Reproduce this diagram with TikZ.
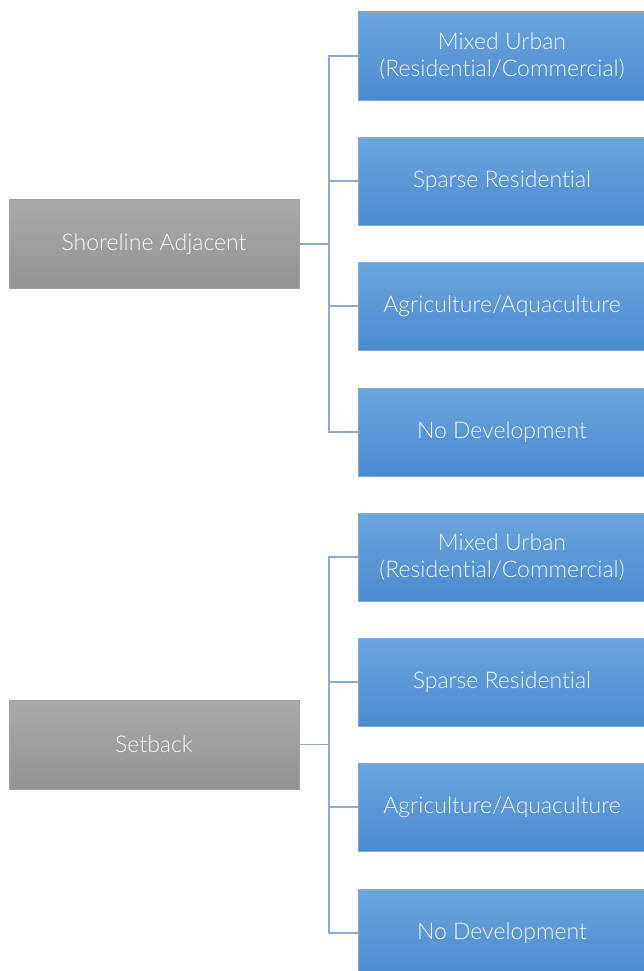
\documentclass[tikz,border=0pt]{standalone}
\usepackage{fontspec}
\setmainfont{Lato}[UprightFont=* Light, Ligatures={NoCommon}]
\begin{document}
\begin{tikzpicture}[x=1pt,y=-1pt,
  bluebox/.style={rectangle, minimum width=288pt, minimum height=88pt, inner sep=0pt,
    top color=blueT, bottom color=blueB, draw=blueE, line width=0.6pt,
    text=txtC, align=center, font=\fontsize{23}{26.5}\selectfont},
  graybox/.style={rectangle, minimum width=290pt, minimum height=89pt, inner sep=0pt,
    top color=grayT, bottom color=grayB, draw=grayE, line width=0.6pt,
    text=txtC, align=center, font=\fontsize{23}{26.5}\selectfont},
  conn/.style={draw=lineC, line width=1.1pt}]
\definecolor{blueT}{HTML}{6DA5DD}
\definecolor{blueB}{HTML}{4A8AD0}
\definecolor{blueE}{HTML}{7FA9D6}
\definecolor{grayT}{HTML}{AAAAAA}
\definecolor{grayB}{HTML}{939393}
\definecolor{grayE}{HTML}{A0A0A0}
\definecolor{lineC}{HTML}{8EAAD2}
\definecolor{txtC}{HTML}{F2F6FA}
\useasboundingbox (0,0) rectangle (644,971);
\clip (0,0) rectangle (644,971);
\fill[white] (0,0) rectangle (644,971);

\node[graybox] (sa) at (154,244) {Shoreline Adjacent};
\node[graybox] (sb) at (154,744.5) {Setback};

\node[bluebox] (a1) at (502,56) {Mixed Urban\\(Residential/Commercial)};
\node[bluebox] (a2) at (502,181) {Sparse Residential};
\node[bluebox] (a3) at (502,306) {Agriculture/Aquaculture};
\node[bluebox] (a4) at (502,432) {No Development};

\node[bluebox] (b1) at (502,557) {Mixed Urban\\(Residential/Commercial)};
\node[bluebox] (b2) at (502,682) {Sparse Residential};
\node[bluebox] (b3) at (502,807) {Agriculture/Aquaculture};
\node[bluebox] (b4) at (502,933) {No Development};

\coordinate (ja) at (329,244);
\coordinate (jb) at (329,744.5);

\draw[conn] (sa.east) -- (ja);
\draw[conn] (ja) |- (a1.west);
\draw[conn] (ja) |- (a2.west);
\draw[conn] (ja) |- (a3.west);
\draw[conn] (ja) |- (a4.west);

\draw[conn] (sb.east) -- (jb);
\draw[conn] (jb) |- (b1.west);
\draw[conn] (jb) |- (b2.west);
\draw[conn] (jb) |- (b3.west);
\draw[conn] (jb) |- (b4.west);
\end{tikzpicture}
\end{document}
